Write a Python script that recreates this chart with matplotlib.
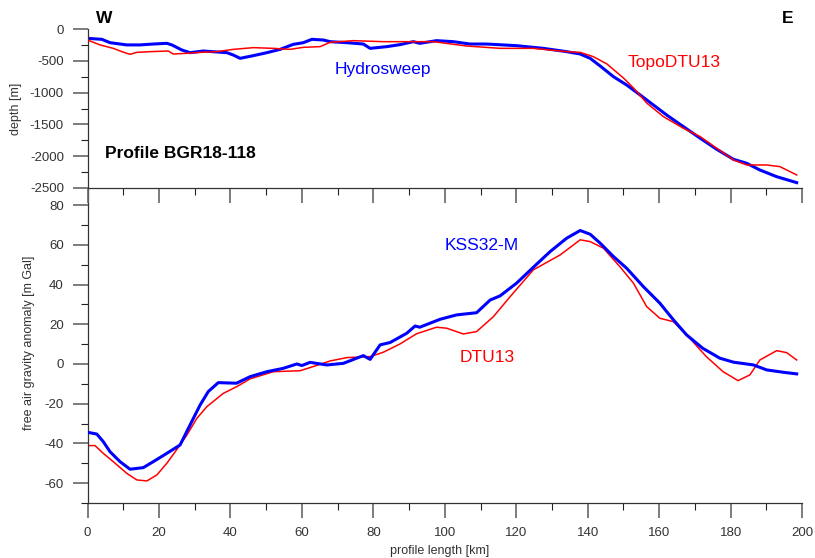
import numpy as np
import matplotlib
matplotlib.use('Agg')
import matplotlib.pyplot as plt
from matplotlib.ticker import MultipleLocator

plt.rcParams['font.family'] = ['Liberation Sans', 'DejaVu Sans']
plt.rcParams['axes.unicode_minus'] = False

# --- bathymetry (top panel) ---
hydro_km = [0, 4, 6.3, 11, 14.7, 18.4, 22.2, 23.6, 26.4, 28.7, 32.4, 39, 40.8, 42.7,
            46.4, 50.2, 53.9, 57.6, 60.4, 62.8, 66, 67.9, 72.6, 77.2, 79.1, 83.8, 87.5,
            91.2, 93, 97.7, 102.4, 107, 111.7, 120.1, 127.6, 134.1, 137.9, 140.7, 143.5,
            147.2, 150.9, 154.7, 158.4, 162.1, 166.8, 171.5, 176.1, 180.8, 184.5, 188.2,
            192.9, 198.5]
hydro_depth = [-147, -162, -215, -250, -250, -236, -225, -250, -330, -372, -346, -372, -409, -461,
               -419, -372, -320, -241, -215, -162, -173, -199, -215, -236, -304, -277, -245,
               -199, -225, -183, -199, -236, -236, -262, -304, -356, -393, -461, -582,
               -749, -880, -1038, -1195, -1352, -1536, -1718, -1891, -2049, -2111, -2217,
               -2322, -2416]

topo_km = [0, 3.5, 7.2, 9.6, 11.9, 13.8, 17.5, 22.6, 24, 27.8, 31.5, 36.2, 40.8, 46.4,
           52, 56.7, 60.4, 65.1, 67.9, 74.4, 82.8, 91.2, 96.8, 106.1, 115.5, 124.8, 134.1,
           137.9, 141.6, 145.4, 150.1, 152.9, 156.6, 161.2, 166.8, 171.5, 176.1, 180.8,
           184.5, 190.1, 193.8, 198.5]
topo_depth = [-173, -250, -304, -356, -398, -367, -356, -346, -393, -382, -367, -356, -320, -293,
              -304, -320, -288, -277, -209, -183, -199, -199, -199, -267, -304, -304, -356,
              -367, -435, -550, -775, -932, -1168, -1378, -1561, -1693, -1875, -2059,
              -2138, -2138, -2164, -2295]

# --- free air gravity (bottom panel) ---
kss_km = [0, 2.6, 4.4, 6.3, 9.1, 11.9, 15.6, 18.4, 22.2, 25.9, 28.7, 31.5, 33.8, 36.6,
          41.7, 45.5, 50.2, 54.8, 58.6, 60, 62.3, 67, 71.6, 77.2, 79.1, 81.9, 84.7, 89.3,
          91.7, 93, 98.7, 103.3, 108.9, 112.7, 115.5, 120.1, 124.8, 129.5, 134.1, 137.9,
          140.7, 143.5, 147.2, 150.9, 155.6, 160.2, 164, 167.7, 172.2, 177, 180.8, 186.4,
          190.1, 194.8, 198.5]
kss_mgal = [-34.4, -35.3, -39.1, -44.2, -49.2, -53, -52.2, -49.2, -45, -40.8, -30.7, -20.7, -13.9, -9.4,
            -9.7, -6.4, -3.9, -2.2, 0, -0.8, 0.8, -0.5, 0.3, 4.2, 2.3, 9.6, 10.8, 15.4,
            19.1, 18.5, 22.5, 24.7, 25.8, 32.2, 34.3, 40.7, 48.7, 56.6, 63.3, 67.2,
            65.3, 60.8, 54.1, 48.2, 38.9, 30.6, 22.2, 14.6, 7.9, 2.9, 0.9, -0.5,
            -3, -4.2, -5]

dtu_km = [0, 2.1, 4.4, 7.2, 11, 13.8, 16.6, 19.4, 22.2, 24.9, 27.8, 30.6, 33.4, 38,
          41.8, 45.5, 52, 59.5, 63.2, 67.9, 72.6, 79.1, 82.8, 87.5, 92.1, 97.7, 100.5,
          105.2, 108.9, 113.6, 118.3, 124.8, 132.3, 137.9, 140.7, 144.4, 149, 152.8,
          156.5, 160.2, 164, 168.6, 173.2, 177.9, 182.1, 185.4, 188.2, 192.9, 195.7, 198.5]
dtu_mgal = [-41.1, -41.1, -45, -49.2, -55.1, -58.4, -58.9, -55.9, -50, -43.3, -35.8, -27.4, -21.5, -14.8,
            -11.4, -7.5, -3.9, -3.4, -1.3, 1.5, 3.2, 3.7, 5.9, 10.1, 15.2, 18.5, 18,
            15.1, 16.3, 23.8, 33.9, 47.4, 54.9, 62.5, 61.6, 58.3, 49, 40.7,
            28.9, 23, 21.3, 12.9, 3.7, -3.9, -8.4, -5.5, 2, 6.7, 5.7, 2]

BLUE = '#0000ff'
RED = '#ff0000'
GREY = '#333333'

fig = plt.figure(figsize=(8.15, 5.58), dpi=100)
ax2 = fig.add_axes([0.1074, 0.0986, 0.8767, 0.5645])
ax1 = fig.add_axes([0.1074, 0.6631, 0.8767, 0.2849])
ax1.patch.set_visible(False)
ax2.patch.set_visible(False)


def style_axes(ax):
    for s in ['top', 'right']:
        ax.spines[s].set_visible(False)
    for s in ['left', 'bottom']:
        ax.spines[s].set_color(GREY)
        ax.spines[s].set_linewidth(0.9)
    ax.tick_params(which='major', direction='out', length=11, width=1.2,
                   color='#666666', labelsize=9.5, labelcolor=GREY, pad=6)
    ax.tick_params(which='minor', direction='out', length=5, width=0.8, color='#222222')
    ax.xaxis.set_major_locator(MultipleLocator(20))
    ax.xaxis.set_minor_locator(MultipleLocator(10))
    ax.set_xlim(0, 200)


style_axes(ax1)
ax1.plot(topo_km, topo_depth, color=RED, lw=1.1, zorder=3)
ax1.plot(hydro_km, hydro_depth, color=BLUE, lw=2.2, zorder=2)
ax1.set_ylim(-2500, 0)
ax1.yaxis.set_major_locator(MultipleLocator(500))
ax1.yaxis.set_minor_locator(MultipleLocator(250))
ax1.tick_params(axis='x', labelbottom=False)
ax1.set_ylabel('depth [m]', fontsize=9, color=GREY)
ax1.yaxis.set_label_coords(-0.0917, 0.5)

ax1.text(4.6, 173, 'W', fontsize=12.5, fontweight='bold', ha='center', va='center', clip_on=False)
ax1.text(196, 173, 'E', fontsize=12.5, fontweight='bold', ha='center', va='center', clip_on=False)
ax1.text(82.7, -629, 'Hydrosweep', fontsize=12.5, color=BLUE, ha='center', va='center')
ax1.text(164.2, -519, 'TopoDTU13', fontsize=12.5, color=RED, ha='center', va='center')
ax1.text(4.9, -1965, 'Profile BGR18-118', fontsize=12.5, fontweight='bold', ha='left', va='center')

style_axes(ax2)
ax2.plot(dtu_km, dtu_mgal, color=RED, lw=1.1, zorder=2)
ax2.plot(kss_km, kss_mgal, color=BLUE, lw=2.2, zorder=3)
ax2.set_ylim(-70, 88.6)
ax2.yaxis.set_major_locator(MultipleLocator(20))
ax2.yaxis.set_minor_locator(MultipleLocator(10))
ax2.set_ylabel('free air gravity anomaly [m Gal]', fontsize=9, color=GREY)
ax2.yaxis.set_label_coords(-0.073, 0.508)
ax2.set_xlabel('profile length [km]', fontsize=9, color=GREY)
ax2.xaxis.set_label_coords(0.493, -0.133)

ax2.text(110.2, 59.4, 'KSS32-M', fontsize=12.5, color=BLUE, ha='center', va='center')
ax2.text(112, 3.0, 'DTU13', fontsize=12.5, color=RED, ha='center', va='center')

fig.savefig('out.png', dpi=100)
